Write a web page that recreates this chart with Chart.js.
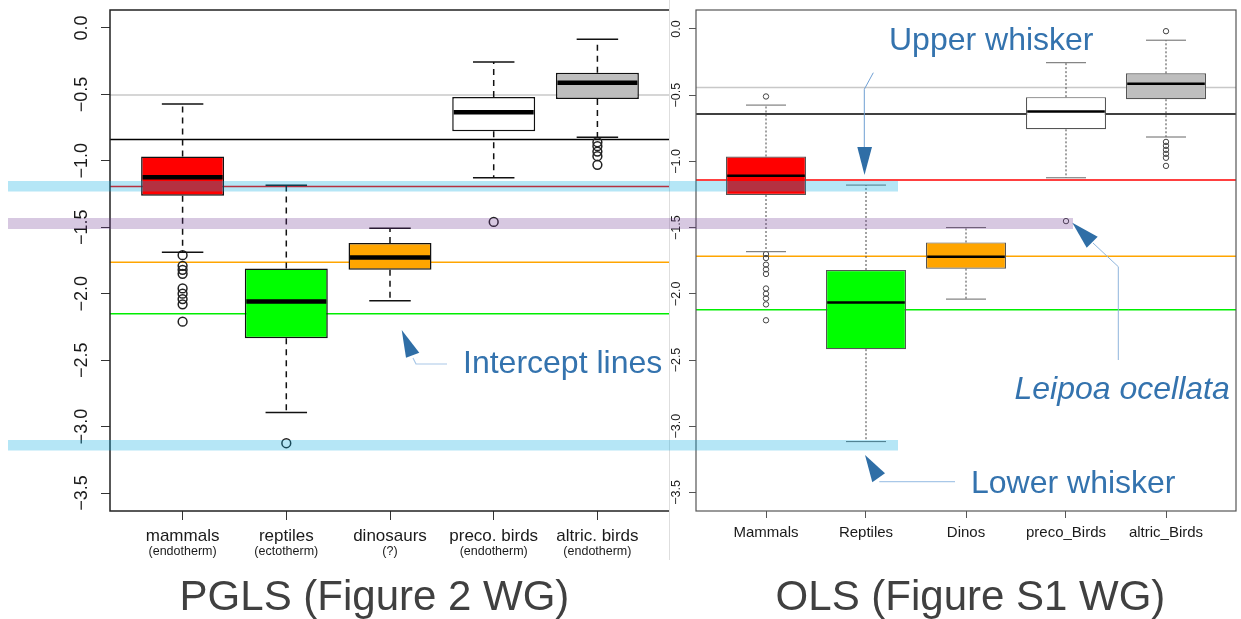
<!DOCTYPE html>
<html>
<head>
<meta charset="utf-8">
<script src="https://cdn.jsdelivr.net/npm/chart.js@4.4.1/dist/chart.umd.min.js"></script>
<style>
  body { margin: 0; background: #fff; }
  #wrap { position: relative; width: 1241px; height: 619px; overflow: hidden; background: #fff; }
  #pgls { position: absolute; left: 0; top: 0; }
  #ols { position: absolute; left: 669px; top: 0; }
  #notes { position: absolute; left: 0; top: 0; }
  .note { fill: #3473ae; font-family: "Liberation Sans", Arial, sans-serif; font-size: 32px; }
  .title { fill: #404040; font-family: "Liberation Sans", Arial, sans-serif; font-size: 42px; }
</style>
</head>
<body>
<div id="wrap">
  <canvas id="pgls" width="680" height="560"></canvas>
  <canvas id="ols" width="572" height="560"></canvas>
  <svg id="notes" width="1241" height="619">
    <rect x="8" y="181" width="890" height="10.5" fill="rgba(0,168,224,0.29)"/>
    <rect x="8" y="440" width="890" height="10.5" fill="rgba(0,168,224,0.29)"/>
    <rect x="8" y="218" width="1065" height="11" fill="rgba(107,52,144,0.27)"/>

    <polyline points="873.3,72.7 864.3,89.3 864.3,147" fill="none" stroke="#6f9fd3" stroke-width="1"/>
    <polygon points="857.3,147 872,147 864.5,175" fill="#2f6ea6"/>

    <polyline points="413,358 416,364 447,364" fill="none" stroke="#a9c8e8" stroke-width="1.2"/>
    <polygon points="401.7,330 406,357.7 419.3,352.7" fill="#2f6ea6"/>

    <polyline points="1093,243 1118.3,266.7 1118.3,360" fill="none" stroke="#8fb5dc" stroke-width="1"/>
    <polygon points="1072.3,222.7 1086.7,247.7 1097.7,236.7" fill="#2f6ea6"/>

    <polyline points="879.3,481.7 955,481.7" fill="none" stroke="#a9c8e8" stroke-width="1.2"/>
    <polygon points="865,455 872.3,482.3 885,473.3" fill="#2f6ea6"/>

    <text class="note" x="889" y="50">Upper whisker</text>
    <text class="note" x="463" y="373">Intercept lines</text>
    <text class="note" x="1014.5" y="398.7" font-style="italic">Leipoa ocellata</text>
    <text class="note" x="971" y="492.7">Lower whisker</text>
    <text class="title" x="374.5" y="610" text-anchor="middle">PGLS (Figure 2 WG)</text>
    <text class="title" x="970.5" y="610" text-anchor="middle">OLS (Figure S1 WG)</text>
  </svg>
</div>
<script>
const groups = [1, 2, 3, 4, 5];
const yTicks = [0, -0.5, -1, -1.5, -2, -2.5, -3, -3.5];
const yTickLabels = ['0.0', '\u22120.5', '\u22121.0', '\u22121.5', '\u22122.0', '\u22122.5', '\u22123.0', '\u22123.5'];
const boxColors = ['#ff0000', '#00ff00', '#ffa500', '#ffffff', '#bebebe'];
const lineColors = ['#c8c8c8', '#000000', '#ff0000', '#ffa500', '#00ee00'];

// PGLS (left)
const pglsLabels = ['mammals', 'reptiles', 'dinosaurs', 'preco. birds', 'altric. birds'];
const pglsSub = ['(endotherm)', '(ectotherm)', '(?)', '(endotherm)', '(endotherm)'];
const pglsLow = [-1.688, -2.893, -2.053, -1.128, -0.822];
const pglsQ1 = [-1.263, -2.335, -1.82, -0.778, -0.535];
const pglsMed = [-1.123, -2.058, -1.728, -0.635, -0.413];
const pglsQ3 = [-0.968, -1.81, -1.618, -0.52, -0.338];
const pglsHigh = [-0.572, -1.183, -1.508, -0.257, -0.085];
const pglsOut = [
  [-1.71, -1.79, -1.82, -1.85, -1.96, -2.0, -2.04, -2.08, -2.21],
  [-3.125],
  [],
  [-1.46],
  [-0.86, -0.89, -0.93, -0.965, -1.03]
];
const pglsLines = [-0.505, -0.84, -1.193, -1.763, -2.15];

// OLS (right)
const olsLabels = ['Mammals', 'Reptiles', 'Dinos', 'preco_Birds', 'altric_Birds'];
const olsLow = [-1.682, -3.116, -2.04, -1.124, -0.816];
const olsQ1 = [-1.254, -2.418, -1.81, -0.758, -0.531];
const olsMed = [-1.109, -2.065, -1.72, -0.623, -0.413];
const olsQ3 = [-0.963, -1.82, -1.612, -0.515, -0.335];
const olsHigh = [-0.575, -1.179, -1.5, -0.255, -0.085];
const olsOut = [
  [-0.51, -1.7, -1.73, -1.78, -1.815, -1.85, -1.96, -2.0, -2.035, -2.08, -2.2],
  [],
  [],
  [-1.451],
  [-0.017, -0.853, -0.883, -0.913, -0.943, -0.973, -1.034]
];
const olsLines = [-0.443, -0.643, -1.141, -1.717, -2.12];

const pglsStyle = {
  yMin: -3.635, yMax: 0.135, yWidth: 110, padRight: 10,
  frame: '#222', frameWidth: 1.5, tickColor: '#333', xTick: 9, yTick: 9,
  boxBorder: '#111', boxWidth: 1.5, lineWidth: 1.5,
  whisker: '#111', whiskerWidth: 1.5, dash: [6, 5], staple: '#111', medianWidth: 4.5,
  outR: 4.4, outColor: '#222', outWidth: 1.5,
  yFont: '18px "Liberation Sans", Arial, sans-serif', yGap: 23,
  xFont: '17px "Liberation Sans", Arial, sans-serif', xDy: 29.7,
  subFont: '12.5px "Liberation Sans", Arial, sans-serif', subDy: 44,
  text: '#1a1a1a', edge: null
};
const olsStyle = {
  yMin: -3.64, yMax: 0.143, yWidth: 27, padRight: 2,
  frame: '#555', frameWidth: 1.2, tickColor: '#555', xTick: 7, yTick: 7,
  boxBorder: '#555', boxWidth: 1.2, lineWidth: 1.5,
  whisker: '#444', whiskerWidth: 1, dash: [2, 2], staple: '#666', medianWidth: 2.5,
  outR: 2.7, outColor: '#444', outWidth: 1,
  yFont: '12.5px "Liberation Sans", Arial, sans-serif', yGap: 16.5,
  xFont: '15px "Liberation Sans", Arial, sans-serif', xDy: 25.5,
  subFont: null, subDy: 0,
  text: '#1a1a1a', edge: '#dedede'
};

function boxDatasets(s, st) {
  const sets = [];
  s.lines.forEach((v, i) => sets.push({
    type: 'line',
    data: [{ x: 0.3, y: v }, { x: 5.7, y: v }],
    borderColor: lineColors[i],
    borderWidth: st.lineWidth,
    pointRadius: 0,
    order: 3
  }));
  sets.push({
    type: 'bar',
    data: groups.map((g, i) => ({ x: g, y: [s.q1[i], s.q3[i]] })),
    backgroundColor: boxColors,
    borderColor: st.boxBorder,
    borderWidth: st.boxWidth,
    borderSkipped: false,
    categoryPercentage: 1,
    barPercentage: 0.8,
    order: 2
  });
  sets.push({
    type: 'scatter',
    data: s.out.flatMap((o, i) => o.map(v => ({ x: groups[i], y: v }))),
    pointRadius: st.outR,
    pointBackgroundColor: 'rgba(0,0,0,0)',
    pointBorderColor: st.outColor,
    pointBorderWidth: st.outWidth,
    order: 1
  });
  return sets;
}

function boxPlugin(s, st) {
  return {
    id: 'boxes',
    beforeDraw(chart) {
      const ctx = chart.ctx;
      ctx.save();
      ctx.fillStyle = '#fff';
      ctx.fillRect(0, 0, chart.width, chart.height);
      if (st.edge) {
        ctx.strokeStyle = st.edge;
        ctx.lineWidth = 1;
        ctx.beginPath();
        ctx.moveTo(0.5, 0);
        ctx.lineTo(0.5, chart.height);
        ctx.stroke();
      }
      ctx.restore();
    },
    afterDatasetsDraw(chart) {
      const ctx = chart.ctx, x = chart.scales.x, y = chart.scales.y;
      ctx.save();
      groups.forEach((g, i) => {
        const cx = x.getPixelForValue(g);
        const hw = x.getPixelForValue(g + 0.4) - cx;
        const hs = hw / 2;
        ctx.strokeStyle = st.whisker;
        ctx.lineWidth = st.whiskerWidth;
        ctx.setLineDash(st.dash);
        ctx.beginPath();
        ctx.moveTo(cx, y.getPixelForValue(s.q3[i]));
        ctx.lineTo(cx, y.getPixelForValue(s.high[i]));
        ctx.stroke();
        ctx.beginPath();
        ctx.moveTo(cx, y.getPixelForValue(s.q1[i]));
        ctx.lineTo(cx, y.getPixelForValue(s.low[i]));
        ctx.stroke();
        ctx.setLineDash([]);
        ctx.strokeStyle = st.staple;
        [s.high[i], s.low[i]].forEach(v => {
          const py = y.getPixelForValue(v);
          ctx.beginPath();
          ctx.moveTo(cx - hs, py);
          ctx.lineTo(cx + hs, py);
          ctx.stroke();
        });
        const pm = y.getPixelForValue(s.med[i]);
        ctx.strokeStyle = '#000';
        ctx.lineWidth = st.medianWidth;
        ctx.beginPath();
        ctx.moveTo(cx - hw + st.boxWidth, pm);
        ctx.lineTo(cx + hw - st.boxWidth, pm);
        ctx.stroke();
      });
      ctx.restore();
    },
    afterDraw(chart) {
      const ctx = chart.ctx, a = chart.chartArea, x = chart.scales.x, y = chart.scales.y;
      ctx.save();
      ctx.strokeStyle = st.frame;
      ctx.lineWidth = st.frameWidth;
      ctx.strokeRect(a.left, a.top, a.right - a.left, a.bottom - a.top);
      ctx.fillStyle = st.text;
      ctx.textAlign = 'center';
      ctx.textBaseline = 'alphabetic';
      ctx.font = st.yFont;
      yTicks.forEach((v, i) => {
        ctx.save();
        ctx.translate(a.left - st.yGap, y.getPixelForValue(v));
        ctx.rotate(-Math.PI / 2);
        ctx.fillText(yTickLabels[i], 0, 0);
        ctx.restore();
      });
      groups.forEach((g, i) => {
        const cx = x.getPixelForValue(g);
        ctx.font = st.xFont;
        ctx.fillText(s.labels[i], cx, a.bottom + st.xDy);
        if (s.sub) {
          ctx.font = st.subFont;
          ctx.fillText(s.sub[i], cx, a.bottom + st.subDy);
        }
      });
      ctx.restore();
    }
  };
}

function makeChart(id, s, st) {
  return new Chart(document.getElementById(id), {
    type: 'bar',
    data: { datasets: boxDatasets(s, st) },
    options: {
      responsive: false,
      animation: false,
      layout: { padding: { top: 10, right: st.padRight, left: 0, bottom: 0 } },
      plugins: { legend: { display: false }, tooltip: { enabled: false } },
      scales: {
        x: {
          type: 'linear', min: 0.3, max: 5.7, offset: false,
          afterBuildTicks: sc => { sc.ticks = groups.map(v => ({ value: v })); },
          afterFit: sc => { sc.height = 49; },
          ticks: { display: false },
          grid: { offset: false, drawOnChartArea: false, color: st.tickColor, tickLength: st.xTick },
          border: { display: false }
        },
        y: {
          type: 'linear', min: st.yMin, max: st.yMax, beginAtZero: false,
          afterBuildTicks: sc => { sc.ticks = yTicks.map(v => ({ value: v })); },
          afterFit: sc => { sc.width = st.yWidth; },
          ticks: { display: false },
          grid: { drawOnChartArea: false, color: st.tickColor, tickLength: st.yTick },
          border: { display: false }
        }
      }
    },
    plugins: [boxPlugin(s, st)]
  });
}

makeChart('pgls', {
  labels: pglsLabels, sub: pglsSub, low: pglsLow, q1: pglsQ1, med: pglsMed,
  q3: pglsQ3, high: pglsHigh, out: pglsOut, lines: pglsLines
}, pglsStyle);

makeChart('ols', {
  labels: olsLabels, sub: null, low: olsLow, q1: olsQ1, med: olsMed,
  q3: olsQ3, high: olsHigh, out: olsOut, lines: olsLines
}, olsStyle);
</script>
</body>
</html>
